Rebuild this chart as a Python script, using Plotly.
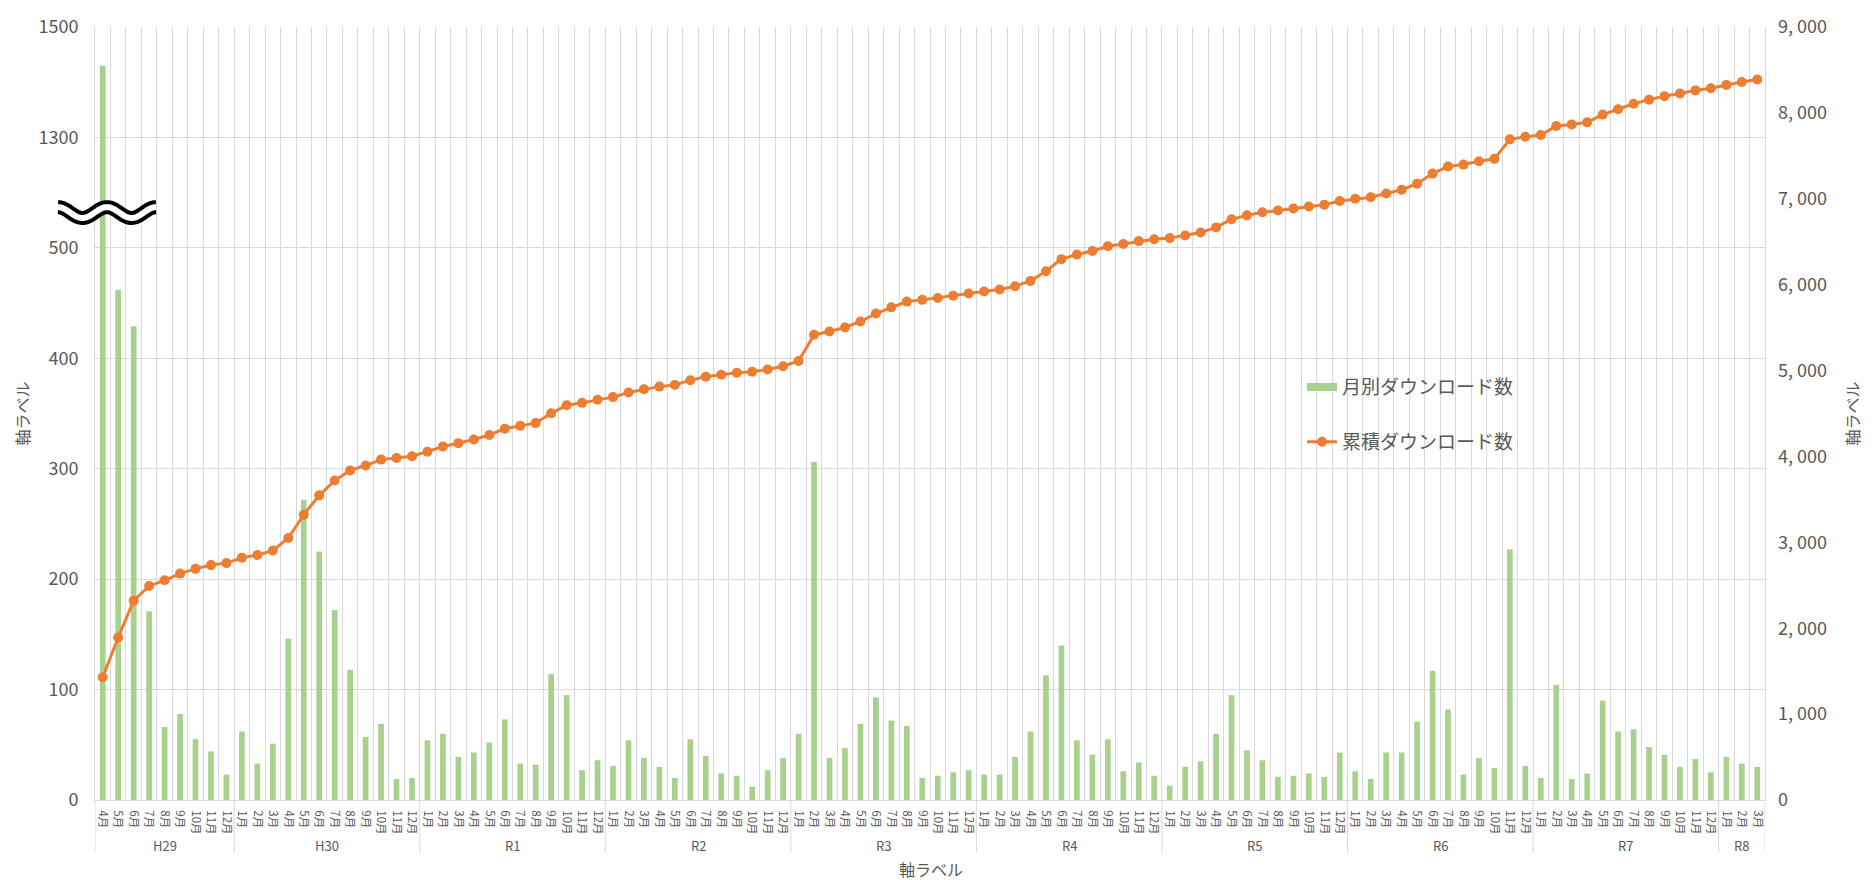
import numpy as np
import plotly.graph_objects as go

# ---------------- data ----------------
eras = ["H29", "H30", "R1", "R2", "R3", "R4", "R5", "R6", "R7", "R8"]
era_first_month = [4, 1, 1, 1, 1, 1, 1, 1, 1, 1]
era_last_month = [12, 12, 12, 12, 12, 12, 12, 12, 12, 3]

dl_h29 = [1430, 462, 429, 171, 66, 78, 55, 44, 23]
dl_h30 = [62, 33, 51, 146, 272, 225, 172, 118, 57, 69, 19, 20]
dl_r1 = [54, 60, 39, 43, 52, 73, 33, 32, 114, 95, 27, 36]
dl_r2 = [31, 54, 38, 30, 20, 55, 40, 24, 22, 12, 27, 38]
dl_r3 = [60, 306, 38, 47, 69, 93, 72, 67, 20, 22, 25, 27]
dl_r4 = [23, 23, 39, 62, 113, 140, 54, 41, 55, 26, 34, 22]
dl_r5 = [13, 30, 35, 60, 95, 45, 36, 21, 22, 24, 21, 43]
dl_r6 = [26, 19, 43, 43, 71, 117, 82, 23, 38, 29, 227, 31]
dl_r7 = [20, 104, 19, 24, 90, 62, 64, 48, 41, 30, 37, 25]
dl_r8 = [39, 33, 30]

left_tick_labels = ["0", "100", "200", "300", "400", "500", "1300", "1500"]
right_tick_values = [0, 1000, 2000, 3000, 4000, 5000, 6000, 7000, 8000, 9000]

name_monthly = "月別ダウンロード数"
name_cumulative = "累積ダウンロード数"
axis_title = "軸ラベル"

# ---------------- derived ----------------
monthly = dl_h29 + dl_h30 + dl_r1 + dl_r2 + dl_r3 + dl_r4 + dl_r5 + dl_r6 + dl_r7 + dl_r8
cumulative = np.cumsum(monthly).tolist()

x_era, x_month = [], []
era_spans = []
for e, m0, m1 in zip(eras, era_first_month, era_last_month):
    start = len(x_month)
    for m in range(m0, m1 + 1):
        x_era.append(e)
        x_month.append(f"{m}月")
    era_spans.append((e, start, len(x_month) - 1))
n = len(x_month)
xpos = list(range(n))

# broken axis: 0-500 linear, then 1300-1500 compressed into one grid step
BREAK_LO, BREAK_HI, TOP = 500, 1300, 1500
def to_axis(v):
    if v <= BREAK_LO:
        return v
    return 600 + (v - BREAK_HI) * 100.0 / (TOP - BREAK_HI)

bar_y = [to_axis(v) for v in monthly]

GREEN = "#A9D18E"
ORANGE = "#ED7D31"
GRID = "#D9D9D9"
TXT = "#595959"
FONT = "Noto Sans CJK JP"

W, H = 1874, 880
L, R, T, B = 95, 1765, 16, 800  # plot area in pixels

def px2paper(px, py):
    return (px - L) / (R - L), (B - py) / (B - T)

fig = go.Figure()

# legend-only entry for the bars (line-shaped key like the original)
fig.add_trace(go.Scatter(
    x=[None], y=[None], mode="lines",
    line=dict(color=GREEN, width=8), name=name_monthly,
    legendgroup="a", yaxis="y2", hoverinfo="skip"))

fig.add_trace(go.Bar(
    x=xpos, y=bar_y, marker=dict(color=GREEN, line=dict(width=0)),
    name=name_monthly, showlegend=False,
    customdata=np.array([x_era, x_month, monthly], dtype=object).T,
    hovertemplate="%{customdata[0]} %{customdata[1]}<br>%{customdata[2]}<extra></extra>"))

fig.add_trace(go.Scatter(
    x=xpos, y=cumulative, mode="lines+markers", yaxis="y2",
    line=dict(color=ORANGE, width=3),
    marker=dict(color=ORANGE, size=10, symbol="circle"),
    name=name_cumulative, legendgroup="b",
    customdata=np.array([x_era, x_month], dtype=object).T,
    hovertemplate="%{customdata[0]} %{customdata[1]}<br>%{y:,}<extra></extra>"))

shapes = []
annotations = []

# era dividers below the axis and era labels
div_bottom = px2paper(0, 853)[1]
boundaries = sorted(set([s - 0.5 for _, s, _ in era_spans] + [era_spans[-1][2] + 0.5]))
for bx_ in boundaries:
    shapes.append(dict(type="line", xref="x", yref="paper", x0=bx_, x1=bx_,
                       y0=0, y1=div_bottom, line=dict(color=GRID, width=1),
                       layer="below"))
era_y = px2paper(0, 846)[1]
for e, s, t in era_spans:
    annotations.append(dict(text=e, xref="x", yref="paper", x=(s + t) / 2.0,
                            y=era_y, xanchor="center", yanchor="middle",
                            showarrow=False, font=dict(size=13, color=TXT)))

# wavy break mark (decoration)
xs = np.linspace(58, 156, 120)
ys = 204.2 - 5.5 * np.cos(2 * np.pi * (xs - 58) / 49.0)
pts = [px2paper(a, b) for a, b in zip(xs, ys)]
path = "M " + " L ".join(f"{a:.5f},{b:.5f}" for a, b in pts)
shapes += [
    dict(type="path", xref="paper", yref="paper", path=path,
         line=dict(color="black", width=14), layer="above"),
    dict(type="path", xref="paper", yref="paper", path=path,
         line=dict(color="white", width=6), layer="above"),
]

ax_l = px2paper(21, 0)[0]
ax_r = px2paper(1851, 0)[0]
tx, ty = px2paper(931, 870)
annotations += [
    dict(text=axis_title, xref="paper", yref="paper", x=ax_l, y=0.5,
         xanchor="center", yanchor="middle",
         textangle=-90, showarrow=False, font=dict(size=16, color=TXT)),
    dict(text=axis_title, xref="paper", yref="paper", x=ax_r, y=0.5,
         xanchor="center", yanchor="middle",
         textangle=-90, showarrow=False, font=dict(size=16, color=TXT)),
    dict(text=axis_title, xref="paper", yref="paper", x=tx, y=ty,
         xanchor="center", yanchor="middle",
         showarrow=False, font=dict(size=16, color=TXT)),
]

fig.update_layout(
    width=W, height=H,
    margin=dict(l=L, r=W - R, t=T, b=H - B, pad=0),
    paper_bgcolor="white", plot_bgcolor="white",
    font=dict(family=FONT, color=TXT, size=14),
    bargap=0.63,
    showlegend=True,
    legend=dict(x=px2paper(1302, 0)[0], y=px2paper(0, 362)[1],
                xanchor="left", yanchor="top",
                font=dict(size=19, color=TXT, family=FONT),
                tracegroupgap=27, bgcolor="rgba(0,0,0,0)", itemwidth=30),
    xaxis=dict(
        type="linear", range=[-0.5, n - 0.5],
        tickmode="array", tickvals=xpos, ticktext=x_month,
        ticks="", showgrid=False,
        minor=dict(tickmode="array", tickvals=[i - 0.5 for i in range(n + 1)],
                   showgrid=True, gridcolor=GRID, gridwidth=1, ticks=""),
        showline=True, linecolor=GRID, linewidth=1,
        tickangle=90, tickfont=dict(size=11.5, color=TXT, family=FONT),
        ticklabelstandoff=7, zeroline=False),
    yaxis=dict(
        range=[0, 700], tickvals=[0, 100, 200, 300, 400, 500, 600, 700],
        ticktext=left_tick_labels, showgrid=True, gridcolor=GRID,
        gridwidth=1, zeroline=False, showline=True, mirror=True,
        linecolor=GRID, linewidth=1, ticks="", ticklabelstandoff=12,
        tickfont=dict(size=18, color=TXT, family=FONT)),
    yaxis2=dict(
        overlaying="y", side="right", range=[0, 9000],
        tickvals=right_tick_values,
        ticktext=[f"{v:,}".replace(",", ", ") for v in right_tick_values],
        showgrid=False, zeroline=False, ticks="", ticklabelstandoff=12,
        tickfont=dict(size=18, color=TXT, family=FONT)),
    shapes=shapes,
    annotations=annotations,
)

fig.write_html("out.html", config={"displayModeBar": False},
               post_script="document.body.style.margin='0';document.body.style.overflow='hidden';")
